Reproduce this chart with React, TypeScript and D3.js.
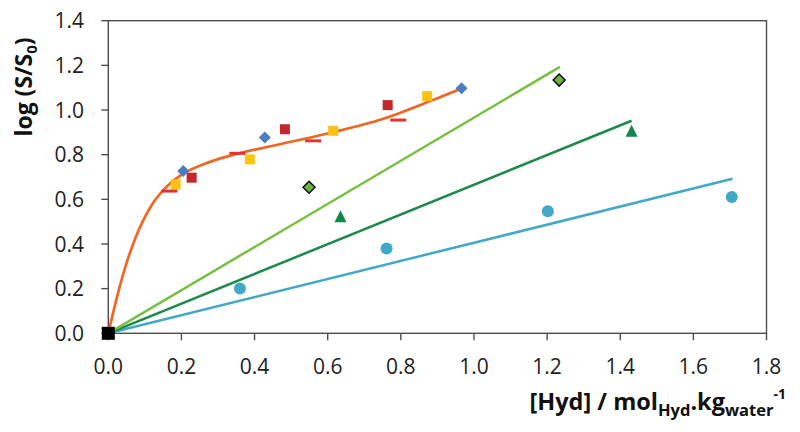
import React from "react";
import * as d3 from "d3";

const xTicks = [0, 0.2, 0.4, 0.6, 0.8, 1.0, 1.2, 1.4, 1.6, 1.8];
const yTicks = [0, 0.2, 0.4, 0.6, 0.8, 1.0, 1.2, 1.4];

// orange fitted curve
const orangeCurve: [number, number][] = [
  [0, 0], [0.025, 0.17], [0.05, 0.315], [0.075, 0.43], [0.1, 0.52], [0.125, 0.59],
  [0.15, 0.64], [0.175, 0.68], [0.2, 0.71], [0.25, 0.75], [0.3, 0.78], [0.35, 0.803],
  [0.45, 0.84], [0.6, 0.895], [0.75, 0.96], [0.88, 1.04], [0.966, 1.097],
];

const blueDiamonds: [number, number][] = [[0.205, 0.727], [0.428, 0.877], [0.966, 1.097]];
const redSquares: [number, number][] = [[0.228, 0.697], [0.483, 0.914], [0.764, 1.022]];
const yellowSquares: [number, number][] = [[0.184, 0.667], [0.387, 0.779], [0.615, 0.907], [0.872, 1.062]];
const redDashes: [number, number][] = [[0.167, 0.637], [0.353, 0.806], [0.56, 0.862], [0.793, 0.955]];

const greenDiamonds: [number, number][] = [[0.549, 0.654], [1.233, 1.134]];
const greenTriangles: [number, number][] = [[0.635, 0.519], [1.431, 0.902]];
const cyanDots: [number, number][] = [[0.36, 0.201], [0.761, 0.38], [1.202, 0.547], [1.705, 0.61]];

const lightGreenLine: [number, number][] = [[0, 0], [1.235, 1.193]];
const darkGreenLine: [number, number][] = [[0, 0], [1.431, 0.952]];
const cyanLine: [number, number][] = [[0, 0], [1.707, 0.692]];

const origin: [number, number][] = [[0, 0]];

const FONT = "'Open Sans', 'Noto Sans', sans-serif";

export default function App() {
  const W = 800, H = 432;
  const x = d3.scaleLinear().domain([0, 1.8]).range([108.3, 766.5]);
  const y = d3.scaleLinear().domain([0, 1.4]).range([333.3, 20.7]);

  const lineGen = d3.line<[number, number]>().x(d => x(d[0])).y(d => y(d[1]));
  const curveGen = d3.line<[number, number]>().x(d => x(d[0])).y(d => y(d[1])).curve(d3.curveMonotoneX);

  const diamond = (cx: number, cy: number, r: number) =>
    `M${cx},${cy - r}L${cx + r},${cy}L${cx},${cy + r}L${cx - r},${cy}Z`;
  const triangle = (cx: number, cy: number, s: number) =>
    `M${cx},${cy - s * 0.6}L${cx + s / 2},${cy + s * 0.4}L${cx - s / 2},${cy + s * 0.4}Z`;

  const axisColor = "#4d4d4d";

  return (
    <svg width={W} height={H} style={{ position: "absolute", left: 0, top: 0, background: "#fff" }}
      fontFamily={FONT}>
      {/* plot frame */}
      <rect x={x(0)} y={y(1.4)} width={x(1.8) - x(0)} height={y(0) - y(1.4)}
        fill="none" stroke={axisColor} strokeWidth={1.4} />
      {/* y ticks */}
      {yTicks.map(t => (
        <g key={"y" + t}>
          <line x1={x(0) - 7} x2={x(0)} y1={y(t)} y2={y(t)} stroke={axisColor} strokeWidth={1.4} />
          <text x={84} y={y(t)} dy="0.36em" textAnchor="end" fontSize={21} fill="#222">{t.toFixed(1)}</text>
        </g>
      ))}
      {/* x ticks */}
      {xTicks.map(t => (
        <g key={"x" + t}>
          <line x1={x(t)} x2={x(t)} y1={y(0)} y2={y(0) + 7} stroke={axisColor} strokeWidth={1.4} />
          <text x={x(t)} y={374} textAnchor="middle" fontSize={21} fill="#222">{t.toFixed(1)}</text>
        </g>
      ))}

      {/* lines */}
      <path d={lineGen(cyanLine) || ""} fill="none" stroke="#41A8C8" strokeWidth={2.5} />
      <path d={lineGen(darkGreenLine) || ""} fill="none" stroke="#1D8A4B" strokeWidth={2.5} />
      <path d={lineGen(lightGreenLine) || ""} fill="none" stroke="#77C043" strokeWidth={2.5} />
      <path d={curveGen(orangeCurve) || ""} fill="none" stroke="#F26522" strokeWidth={2.7} />

      {/* markers */}
      {blueDiamonds.map((d, i) => (
        <path key={"bd" + i} d={diamond(x(d[0]), y(d[1]), 6)} fill="#4A7EC2" />
      ))}
      {redSquares.map((d, i) => (
        <rect key={"rs" + i} x={x(d[0]) - 5} y={y(d[1]) - 5} width={10} height={10} fill="#C1272D" />
      ))}
      {yellowSquares.map((d, i) => (
        <rect key={"ys" + i} x={x(d[0]) - 5} y={y(d[1]) - 5} width={10} height={10} fill="#FFC20E" />
      ))}
      {redDashes.map((d, i) => (
        <rect key={"rd" + i} x={x(d[0]) - 8} y={y(d[1]) - 1.5} width={16} height={3} fill="#E8312F" />
      ))}
      {greenDiamonds.map((d, i) => (
        <path key={"gd" + i} d={diamond(x(d[0]), y(d[1]), 6)} fill="#6DB33F" stroke="#111" strokeWidth={1.5} />
      ))}
      {greenTriangles.map((d, i) => (
        <path key={"gt" + i} d={triangle(x(d[0]), y(d[1]), 12)} fill="#15864A" />
      ))}
      {cyanDots.map((d, i) => (
        <circle key={"cd" + i} cx={x(d[0])} cy={y(d[1])} r={6} fill="#41A8C8" />
      ))}
      {origin.map((d, i) => (
        <rect key={"o" + i} x={x(d[0]) - 6.5} y={y(d[1]) - 6.5} width={13} height={13} fill="#000" />
      ))}

      {/* y title */}
      <text transform="translate(32,87) rotate(-90)" textAnchor="middle" fontSize={23} fontWeight="bold" fill="#111">
        log (S/S<tspan fontSize={15} dy={5}>0</tspan><tspan dy={-5}>)</tspan>
      </text>

      {/* x title */}
      <text x={786} y={410} textAnchor="end" fontSize={23.5} fontWeight="bold" fill="#111">
        [Hyd] / mol<tspan fontSize={16.5} dy={6}>Hyd</tspan>
        <tspan dy={-6}>.kg</tspan>
        <tspan fontSize={16.5} dy={6}>water</tspan>
        <tspan fontSize={14} dy={-17}>-1</tspan>
      </text>
    </svg>
  );
}
